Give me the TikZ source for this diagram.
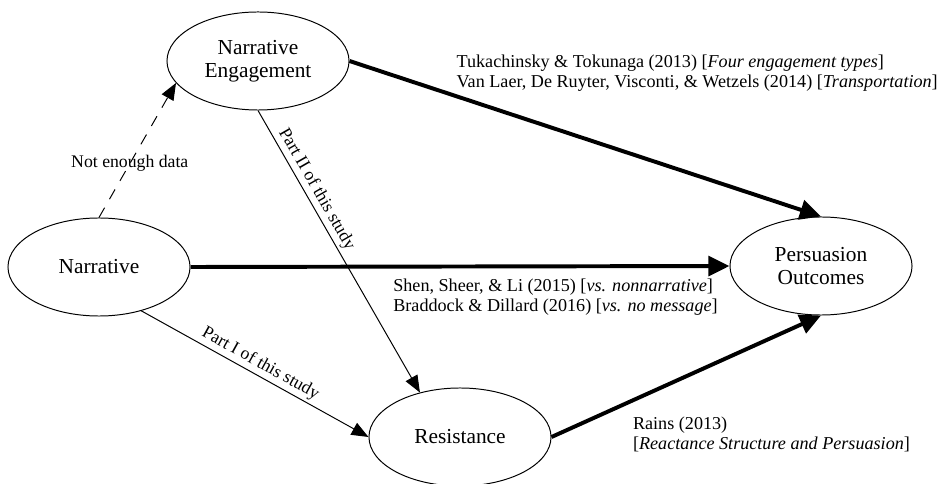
\documentclass[tikz,border=0pt]{standalone}
\usepackage{fontspec}
\setmainfont{Liberation Serif}[ItalicFont={Liberation Serif Italic}]
\usetikzlibrary{arrows.meta, shapes.geometric}

\begin{document}
\begin{tikzpicture}[
        x=0.025cm, y=-0.025cm, % one unit = one pixel of the sketch
        % --- styles ---
        % 1. the constructs (ellipses)
        construct/.style={
                draw,
                ellipse,
                line width=0.7pt,
                minimum width=4.55cm,
                minimum height=2.45cm,
                inner sep=0pt,
                align=center,
                font=\fontsize{15.2}{16.4}\selectfont
            },
        % 2. thin links (this study)
        link/.style={
                -{Triangle[length=12pt,width=9.5pt]},
                line width=0.7pt
            },
        % 3. heavy links (prior work)
        mainlink/.style={
                -{Triangle[length=15pt,width=14pt]},
                line width=2.8pt
            },
        % 4. citations next to the heavy links
        cite/.style={
                font=\fontsize{12.9}{14.3}\selectfont,
                align=left,
                inner sep=1pt
            },
        % 5. labels written along the thin links
        note/.style={
                font=\fontsize{12.6}{14.3}\selectfont,
                inner sep=2pt
            }
    ]
    \useasboundingbox (0,0) rectangle (941,484);

    % 1. constructs
    \node[construct] (narr) at (99,267) {Narrative};
    \node[construct] (eng) at (258,61) {Narrative\\Engagement};
    \node[construct] (res) at (460,437) {Resistance};
    \node[construct] (pers) at (821,266) {Persuasion\\Outcomes};

    % 2. links from prior work
    \draw[mainlink] (eng.east) --
    node[pos=0.22, anchor=south west, cite] (citeEng) {Tukachinsky \& Tokunaga (2013) [\textit{Four engagement types}]\\Van Laer, De Ruyter, Visconti, \& Wetzels (2014) [\textit{Transportation}]}
    (pers.north);

    \draw[mainlink] (narr.east) --
    node[pos=0.37, anchor=north west, yshift=-6pt, cite] (citeNarr) {Shen, Sheer, \& Li (2015) [\textit{vs. nonnarrative}]\\Braddock \& Dillard (2016) [\textit{vs. no message}]}
    (pers.west);

    \draw[mainlink] (res.east) --
    node[pos=0.29, anchor=north west, yshift=-8.5pt, cite] (citeRes) {Rains (2013)\\{[}\textit{Reactance Structure and Persuasion}]}
    (pers.south);

    % 3. links of this study
    \draw[link, dash pattern=on 8pt off 7pt] (narr.north) --
    node[pos=0.4, note] (noData) {Not enough data}
    (eng.195);

    \draw[link] (narr.314) --
    node[midway, above, sloped, note] (partOne) {Part I of this study}
    (res.west);

    \draw[link] (eng.south) --
    node[pos=0.3, above, sloped, note] (partTwo) {Part II of this study}
    (res.132);

\end{tikzpicture}
\end{document}
